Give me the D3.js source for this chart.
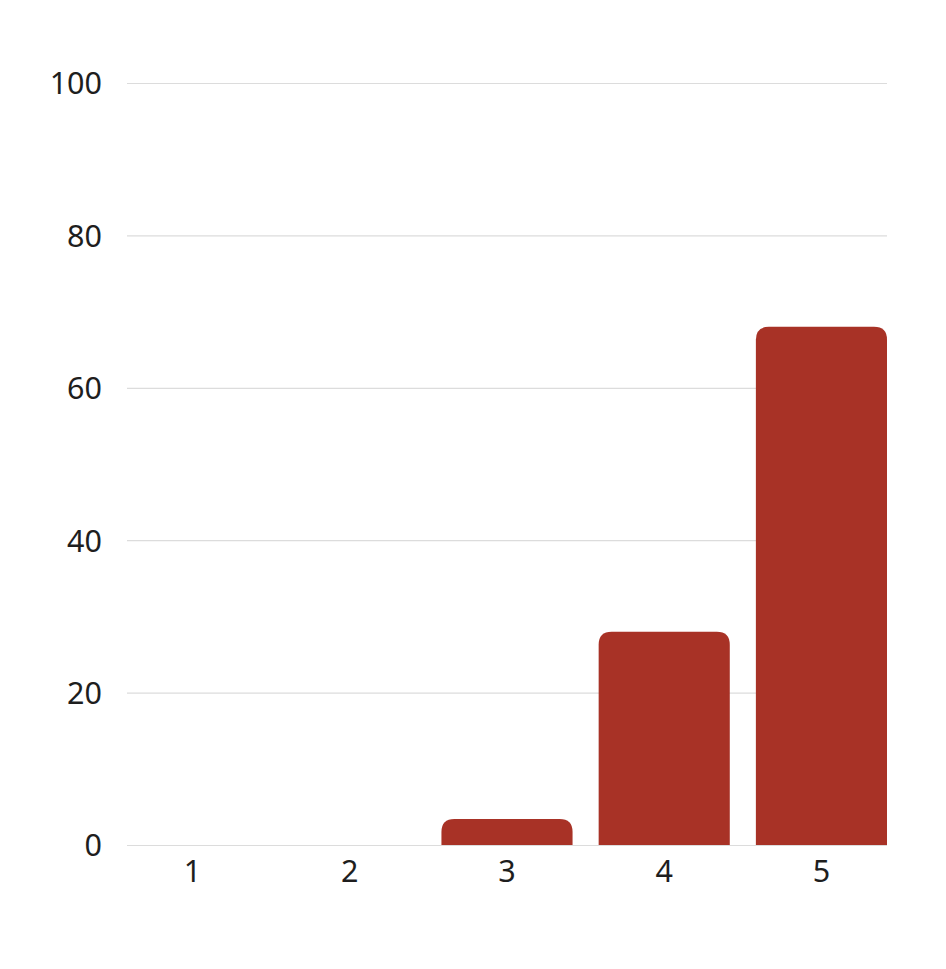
<!DOCTYPE html>
<html>
  <head>
    <script src="https://d3js.org/d3.v7.min.js"></script>
    <style>
      body { margin: 0; background: #fff; }
      .axis text { font-family: "Noto Sans", sans-serif; font-size: 30.5px; fill: #1e1e1e; }
      .axis .domain { display: none; }
      .axis .tick line { stroke: #dcdcdc; stroke-width: 1.2px; }
    </style>
  </head>
  <body>
    <svg width="946" height="969"></svg>
    <script>
      const categories = ["1", "2", "3", "4", "5"];
      const values = [0, 0, 3.4, 28, 68];
      const yTicks = [0, 20, 40, 60, 80, 100];

      const margin = {top: 83, right: 59, bottom: 124, left: 127};
      const svg = d3.select("svg");
      const width = +svg.attr("width");
      const height = +svg.attr("height");
      const innerWidth = width - margin.left - margin.right;
      const innerHeight = height - margin.top - margin.bottom;

      const g = svg.append("g")
          .attr("transform", `translate(${margin.left}, ${margin.top})`);

      const xScale = d3.scaleBand()
        .domain(categories)
        .range([0, innerWidth])
        .paddingInner(0.166)
        .paddingOuter(0);
      const yScale = d3.scaleLinear()
        .domain([0, 100])
        .range([innerHeight, 0]);

      g.append("g")
          .attr("class", "axis")
          .call(d3.axisLeft(yScale)
            .tickValues(yTicks)
            .tickSizeInner(-innerWidth)
            .tickSizeOuter(0)
            .tickPadding(25))
        .selectAll("text")
          .attr("dy", "0.36em");

      g.append("g")
          .attr("class", "axis")
          .attr("transform", `translate(0, ${innerHeight})`)
          .call(d3.axisBottom(xScale).tickSize(0).tickPadding(15));

      // bars with rounded top corners
      const r = 13;
      g.selectAll("path.bar")
        .data(values.map((v, i) => ({cat: categories[i], v})).filter(d => d.v > 0))
        .enter().append("path")
          .attr("class", "bar")
          .attr("fill", "#a83226")
          .attr("d", d => {
            const x0 = xScale(d.cat);
            const w = xScale.bandwidth();
            const y0 = yScale(d.v);
            const y1 = yScale(0);
            const rr = Math.min(r, (y1 - y0));
            return `M${x0},${y1}V${y0 + rr}Q${x0},${y0} ${x0 + rr},${y0}` +
              `H${x0 + w - rr}Q${x0 + w},${y0} ${x0 + w},${y0 + rr}V${y1}Z`;
          });
    </script>
  </body>
</html>
